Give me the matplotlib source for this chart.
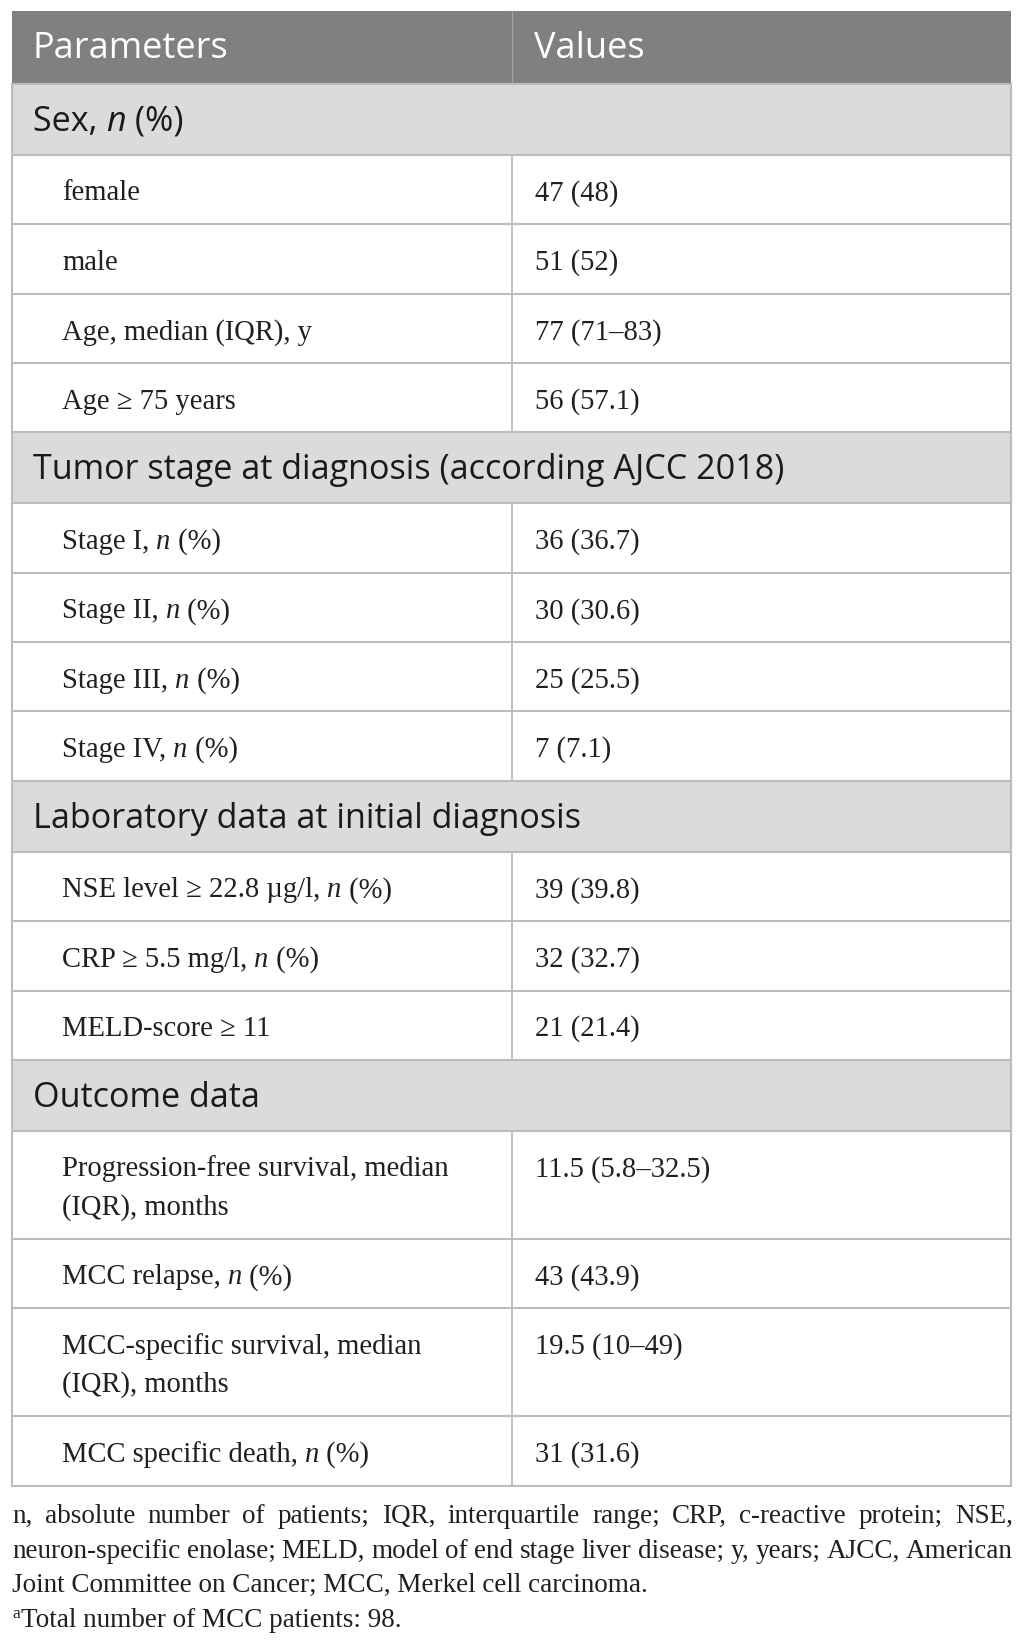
import re
import matplotlib
matplotlib.use("Agg")
import matplotlib.pyplot as plt
from matplotlib.patches import Rectangle
from matplotlib.font_manager import FontProperties

# ---------------- data ----------------
header = ["Parameters", "Values"]

row_kind = ["section", "row", "row", "row", "row",
            "section", "row", "row", "row", "row",
            "section", "row", "row", "row",
            "section", "row2", "row", "row2", "row"]

row_label = [
    "Sex, *n* (%)",
    "female",
    "male",
    "Age, median (IQR), y",
    "Age \u2265 75 years",
    "Tumor stage at diagnosis (according AJCC 2018)",
    "Stage I, *n* (%)",
    "Stage II, *n* (%)",
    "Stage III, *n* (%)",
    "Stage IV, *n* (%)",
    "Laboratory data at initial diagnosis",
    "NSE level \u2265 22.8 \u00b5g/l, *n* (%)",
    "CRP \u2265 5.5 mg/l, *n* (%)",
    "MELD-score \u2265 11",
    "Outcome data",
    "Progression-free survival, median\n(IQR), months",
    "MCC relapse, *n* (%)",
    "MCC-specific survival, median\n(IQR), months",
    "MCC specific death, *n* (%)",
]

row_value = ["", "47 (48)", "51 (52)", "77 (71\u201383)", "56 (57.1)",
             "", "36 (36.7)", "30 (30.6)", "25 (25.5)", "7 (7.1)",
             "", "39 (39.8)", "32 (32.7)", "21 (21.4)",
             "", "11.5 (5.8\u201332.5)", "43 (43.9)", "19.5 (10\u201349)", "31 (31.6)"]

footnote_justified = [
    "n, absolute number of patients; IQR, interquartile range; CRP, c-reactive protein; NSE,",
    "neuron-specific enolase; MELD, model of end stage liver disease; y, years; AJCC, American",
]
footnote_plain = "Joint Committee on Cancer; MCC, Merkel cell carcinoma."
footnote_sup = "a"
footnote_last = "Total number of MCC patients: 98."

# ---------------- layout / style ----------------
W, H = 1026, 1645
left, right, divider = 12, 1011, 512
top = 10.5
heights = {"header": 73.5, "section": 71.0, "row": 69.35, "row2": 108.0}

HEADER_BG = "#808080"
SECTION_BG = "#dcdbd9"
LINE = "#bcbcbc"
TEXT = "#231f20"

sans = "Open Sans"
serif = "Liberation Serif"
fp_top = FontProperties(family=sans, size=26.0)
fp_head = FontProperties(family=sans, size=24.55)
fp_head_it = FontProperties(family=sans, size=24.55, style="italic")
fp_body = FontProperties(family=serif, size=20.6)
fp_body_it = FontProperties(family=serif, size=20.6, style="italic")
fp_foot = FontProperties(family=serif, size=19.5)
fp_sup = FontProperties(family=serif, size=12.5)

fig = plt.figure(figsize=(W / 100, H / 100), dpi=100)
ax = fig.add_axes([0, 0, 1, 1])
ax.set_xlim(0, W)
ax.set_ylim(H, 0)
ax.axis("off")
renderer = fig.canvas.get_renderer()


def width(s, fp):
    t = ax.text(0, 0, "|" + s + "|", fontproperties=fp)
    w1 = t.get_window_extent(renderer).width
    t.remove()
    t = ax.text(0, 0, "||", fontproperties=fp)
    w0 = t.get_window_extent(renderer).width
    t.remove()
    return w1 - w0


def rich(x, y, s, fp, fp_it, color):
    for part in re.split(r"(\*[^*]+\*)", s):
        if not part:
            continue
        it = part.startswith("*")
        txt = part.strip("*") if it else part
        f = fp_it if it else fp
        ax.text(x, y, txt, fontproperties=f, color=color, va="baseline", ha="left")
        x += width(txt, f)


# header
y = top
h = heights["header"]
ax.add_patch(Rectangle((left, y), right - left, h, facecolor=HEADER_BG, edgecolor="none"))
ax.plot([divider, divider], [y, y + h], color="#a3a3a3", lw=0.9)
ax.text(33, y + 47.5, header[0], fontproperties=fp_top, color="white", va="baseline")
ax.text(534, y + 47.5, header[1], fontproperties=fp_top, color="white", va="baseline")
y += h

for kind, lab, val in zip(row_kind, row_label, row_value):
    h = heights[kind]
    if kind == "section":
        ax.add_patch(Rectangle((left, y), right - left, h, facecolor=SECTION_BG, edgecolor="none"))
        rich(33, y + 47, lab, fp_head, fp_head_it, "#1a1a1a")
    else:
        ax.plot([divider, divider], [y, y + h], color=LINE, lw=1.3)
        for i, line in enumerate(lab.split("\n")):
            rich(62, y + 45.5 + 38 * i, line, fp_body, fp_body_it, TEXT)
        ax.text(535, y + 45.5, val, fontproperties=fp_body, color=TEXT, va="baseline")
    ax.plot([left, right], [y, y], color=LINE, lw=1.5)
    y += h

# outer border
bottom = y
ax.plot([left, right], [bottom, bottom], color=LINE, lw=1.5)
ax.plot([left, left], [top + heights["header"], bottom], color=LINE, lw=1.5)
ax.plot([right, right], [top + heights["header"], bottom], color=LINE, lw=1.5)

# footnotes
fx0, fx1 = 12, 1013
fy = 1523
for line in footnote_justified:
    words = line.split(" ")
    ws = [width(wd, fp_foot) for wd in words]
    gap = (fx1 - fx0 - sum(ws)) / (len(words) - 1)
    x = fx0
    for wd, w in zip(words, ws):
        ax.text(x, fy, wd, fontproperties=fp_foot, color=TEXT, va="baseline")
        x += w + gap
    fy += 34.7
ax.text(fx0, fy, footnote_plain, fontproperties=fp_foot, color=TEXT, va="baseline")
fy += 34.7
ax.text(fx0, fy - 9, footnote_sup, fontproperties=fp_sup, color=TEXT, va="baseline")
ax.text(fx0 + width(footnote_sup, fp_sup) + 1, fy, footnote_last, fontproperties=fp_foot,
        color=TEXT, va="baseline")

fig.savefig("out.png", dpi=100, facecolor="white")
